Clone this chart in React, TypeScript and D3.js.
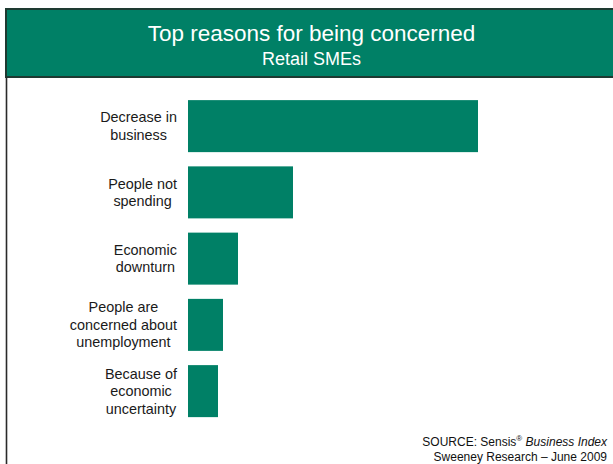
import React, { useEffect, useRef } from "react";
import * as d3 from "d3";

const categories: string[] = [
  "Decrease in\nbusiness",
  "People not\nspending",
  "Economic\ndownturn",
  "People are\nconcerned about\nunemployment",
  "Because of\neconomic\nuncertainty",
];
const values: number[] = [58, 21, 10, 7, 6];
const titleText = "Top reasons for being concerned";
const subtitleText = "Retail SMEs";

const W = 613;
const H = 464;
const GREEN = "#008066";
const FONT = "'Liberation Sans', Arial, sans-serif";

export default function App() {
  const ref = useRef<SVGSVGElement | null>(null);

  useEffect(() => {
    const svg = d3.select(ref.current);
    svg.selectAll("*").remove();

    // header band
    svg.append("rect").attr("x", 6).attr("y", 9).attr("width", W + 10).attr("height", 68)
      .attr("fill", GREEN).attr("stroke", "#1e3a31").attr("stroke-width", 2);
    // left frame line
    svg.append("line").attr("x1", 6.5).attr("x2", 6.5).attr("y1", 77).attr("y2", H)
      .attr("stroke", "#2a2a2a").attr("stroke-width", 1.6);

    svg.append("text").attr("x", 311.5).attr("y", 41).attr("text-anchor", "middle")
      .attr("fill", "#ffffff").attr("font-family", FONT).attr("font-size", 22.5).text(titleText);
    svg.append("text").attr("x", 311.5).attr("y", 65).attr("text-anchor", "middle")
      .attr("fill", "#ffffff").attr("font-family", FONT).attr("font-size", 18).text(subtitleText);

    const y = d3.scaleBand<string>().domain(categories).range([93, 424.25])
      .paddingInner(0.215).paddingOuter(0.1075);
    const x = d3.scaleLinear().domain([0, 100]).range([188, 688]);

    svg.append("g").selectAll("rect").data(categories).join("rect")
      .attr("x", x(0))
      .attr("y", (d) => y(d)!)
      .attr("width", (d, i) => x(values[i]) - x(0))
      .attr("height", y.bandwidth())
      .attr("fill", GREEN);

    const labelRight = 177;
    const lh = 17.5;
    categories.forEach((c) => {
      const lines = c.split("\n");
      const cy = y(c)! + y.bandwidth() / 2;
      const t = svg.append("text").attr("text-anchor", "middle").attr("font-family", FONT)
        .attr("font-size", 14.4).attr("fill", "#1a1a1a");
      const spans = lines.map((ln, i) =>
        t.append("tspan").attr("y", cy + (i - (lines.length - 1) / 2) * lh + 5).text(ln)
      );
      let maxW = 0;
      spans.forEach((s) => {
        const n = s.node() as SVGTSpanElement;
        maxW = Math.max(maxW, n.getComputedTextLength());
      });
      const cx = labelRight - maxW / 2;
      spans.forEach((s) => s.attr("x", cx));
    });

    // source
    const src = svg.append("text").attr("x", 607).attr("y", 446).attr("text-anchor", "end")
      .attr("font-family", FONT).attr("font-size", 12).attr("fill", "#111");
    src.append("tspan").text("SOURCE: Sensis");
    src.append("tspan").attr("font-size", 8).attr("dy", -5).text("®");
    src.append("tspan").attr("dy", 5).text(" ");
    src.append("tspan").attr("font-style", "italic").text("Business Index");
    svg.append("text").attr("x", 607).attr("y", 461).attr("text-anchor", "end")
      .attr("font-family", FONT).attr("font-size", 12).attr("fill", "#111")
      .text("Sweeney Research – June 2009");
  }, []);

  return (
    <svg
      ref={ref}
      width={W}
      height={H}
      style={{ position: "fixed", top: 0, left: 0, background: "#fff" }}
    />
  );
}
